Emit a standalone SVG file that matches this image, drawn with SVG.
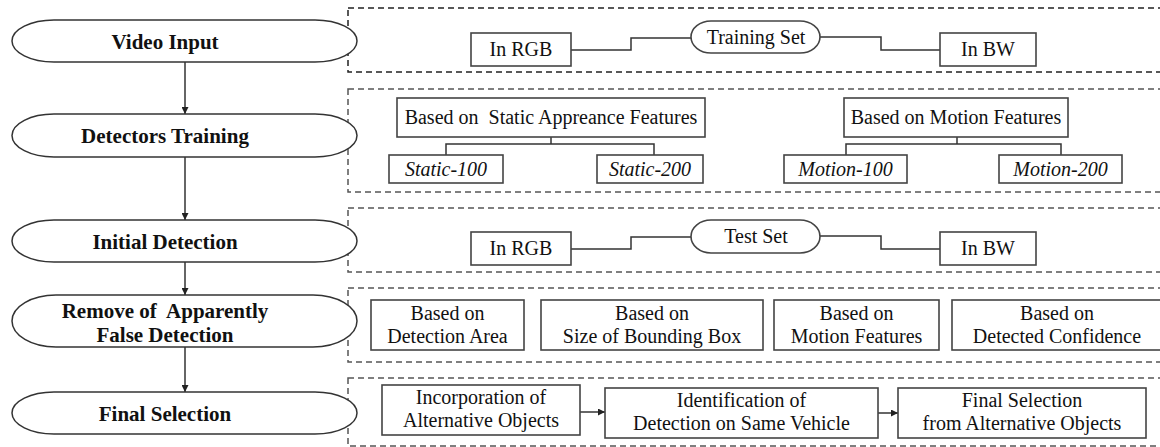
<svg xmlns="http://www.w3.org/2000/svg" width="1160" height="447" viewBox="0 0 1160 447" font-family="Liberation Serif, serif">
<style>
.bgr{fill:#fff}
.oval{fill:#fff;stroke:#333;stroke-width:1.5}
.node{fill:#fff;stroke:#444;stroke-width:1.6}
.panel{fill:none;stroke:#555;stroke-width:1.5;stroke-dasharray:6 4}
.panel-top{stroke:#222}
.wire{fill:none;stroke:#333;stroke-width:1.5}
.stage-label{font-size:21px;font-weight:bold;fill:#111;text-anchor:middle;white-space:pre}
.node-label{font-size:20px;fill:#111;text-anchor:middle;white-space:pre}
.slanted{font-style:italic}
</style>
<defs>
<marker id="ah" viewBox="0 0 10 10" refX="10" refY="5" markerWidth="7" markerHeight="7" markerUnits="userSpaceOnUse" orient="auto">
<path d="M0,0 L10,5 L0,10 z" fill="#222"/>
</marker>
</defs>
<rect class="bgr" x="0" y="0" width="1160" height="447"/>

<g id="panels">
<rect class="panel panel-top" x="348" y="8" width="830" height="64"/>
<rect class="panel" x="348" y="89" width="830" height="103"/>
<rect class="panel" x="348" y="208" width="830" height="64"/>
<rect class="panel" x="348" y="288" width="830" height="74"/>
<rect class="panel" x="348" y="378" width="830" height="68"/>
</g>

<g id="connectors">
<line class="wire" x1="185" y1="62" x2="185" y2="114" marker-end="url(#ah)"/>
<line class="wire" x1="185" y1="157" x2="185" y2="220" marker-end="url(#ah)"/>
<line class="wire" x1="185" y1="262" x2="185" y2="295" marker-end="url(#ah)"/>
<line class="wire" x1="185" y1="347" x2="185" y2="392" marker-end="url(#ah)"/>
<polyline class="wire" points="571,50 631,50 631,38 691,38"/>
<polyline class="wire" points="820,37 881,37 881,50 940,50"/>
<polyline class="wire" points="571,249 631,249 631,237 691,237"/>
<polyline class="wire" points="820,236 881,236 881,249 940,249"/>
<polyline class="wire" points="551,137 551,144"/>
<polyline class="wire" points="446,155 446,144 654,144 654,155"/>
<polyline class="wire" points="957,137 957,144"/>
<polyline class="wire" points="846,155 846,144 1061,144 1061,155"/>
<line class="wire" x1="580" y1="412" x2="605" y2="412" marker-end="url(#ah)"/>
<line class="wire" x1="878" y1="413" x2="898" y2="413" marker-end="url(#ah)"/>
</g>

<g id="video-input">
<rect class="oval" x="12" y="20" width="345" height="42" rx="42" ry="21"/>
<text class="stage-label" style="font-family:'Liberation Serif',serif" x="165" y="49">Video Input</text>
</g>
<g id="detectors-training">
<rect class="oval" x="12" y="114" width="345" height="43" rx="42" ry="21.5"/>
<text class="stage-label" style="font-family:'Liberation Serif',serif" x="165" y="143">Detectors Training</text>
</g>
<g id="initial-detection">
<rect class="oval" x="12" y="220" width="345" height="42" rx="42" ry="21"/>
<text class="stage-label" style="font-family:'Liberation Serif',serif" x="165" y="249">Initial Detection</text>
</g>
<g id="remove-false">
<rect class="oval" x="12" y="295" width="345" height="52" rx="44" ry="26"/>
<text class="stage-label" style="font-family:'Liberation Serif',serif" x="165" y="318">Remove of  Apparently</text>
<text class="stage-label" style="font-family:'Liberation Serif',serif" x="165" y="342">False Detection</text>
</g>
<g id="final-selection">
<rect class="oval" x="12" y="392" width="345" height="42" rx="42" ry="21"/>
<text class="stage-label" style="font-family:'Liberation Serif',serif" x="165" y="421">Final Selection</text>
</g>

<g id="train-rgb">
<rect class="node" x="471" y="33" width="100" height="33"/>
<text class="node-label" style="font-family:'Liberation Serif',serif" x="521" y="56">In RGB</text>
</g>
<g id="training-set">
<rect class="node" x="691" y="21" width="129" height="32" rx="20" ry="16"/>
<text class="node-label" style="font-family:'Liberation Serif',serif" x="756" y="44">Training Set</text>
</g>
<g id="train-bw">
<rect class="node" x="940" y="33" width="96" height="33"/>
<text class="node-label" style="font-family:'Liberation Serif',serif" x="988" y="56">In BW</text>
</g>

<g id="static-features">
<rect class="node" x="397" y="98" width="308" height="39"/>
<text class="node-label" style="font-family:'Liberation Serif',serif" x="551" y="124">Based on  Static Appreance Features</text>
</g>
<g id="static-100">
<rect class="node" x="389" y="155" width="114" height="28"/>
<text class="node-label slanted" style="font-family:'Liberation Serif',serif" x="446" y="176">Static-100</text>
</g>
<g id="static-200">
<rect class="node" x="597" y="155" width="106" height="28"/>
<text class="node-label slanted" style="font-family:'Liberation Serif',serif" x="650" y="176">Static-200</text>
</g>
<g id="motion-features">
<rect class="node" x="844" y="98" width="224" height="39"/>
<text class="node-label" style="font-family:'Liberation Serif',serif" x="956" y="124">Based on Motion Features</text>
</g>
<g id="motion-100">
<rect class="node" x="784" y="155" width="123" height="28"/>
<text class="node-label slanted" style="font-family:'Liberation Serif',serif" x="845.5" y="176">Motion-100</text>
</g>
<g id="motion-200">
<rect class="node" x="999" y="155" width="123" height="28"/>
<text class="node-label slanted" style="font-family:'Liberation Serif',serif" x="1060.5" y="176">Motion-200</text>
</g>

<g id="test-rgb">
<rect class="node" x="471" y="232" width="100" height="33"/>
<text class="node-label" style="font-family:'Liberation Serif',serif" x="521" y="255">In RGB</text>
</g>
<g id="test-set">
<rect class="node" x="691" y="220" width="129" height="33" rx="20" ry="16.5"/>
<text class="node-label" style="font-family:'Liberation Serif',serif" x="756" y="243">Test Set</text>
</g>
<g id="test-bw">
<rect class="node" x="940" y="232" width="96" height="33"/>
<text class="node-label" style="font-family:'Liberation Serif',serif" x="988" y="255">In BW</text>
</g>

<g id="detection-area">
<rect class="node" x="371" y="300" width="153" height="50"/>
<text class="node-label" style="font-family:'Liberation Serif',serif" x="447.5" y="320">Based on</text>
<text class="node-label" style="font-family:'Liberation Serif',serif" x="447.5" y="343">Detection Area</text>
</g>
<g id="bounding-box">
<rect class="node" x="541" y="300" width="222" height="50"/>
<text class="node-label" style="font-family:'Liberation Serif',serif" x="652" y="320">Based on</text>
<text class="node-label" style="font-family:'Liberation Serif',serif" x="652" y="343">Size of Bounding Box</text>
</g>
<g id="motion-based">
<rect class="node" x="774" y="300" width="165" height="50"/>
<text class="node-label" style="font-family:'Liberation Serif',serif" x="856.5" y="320">Based on</text>
<text class="node-label" style="font-family:'Liberation Serif',serif" x="856.5" y="343">Motion Features</text>
</g>
<g id="confidence">
<rect class="node" x="952" y="300" width="230" height="50"/>
<text class="node-label" style="font-family:'Liberation Serif',serif" x="1057" y="320">Based on</text>
<text class="node-label" style="font-family:'Liberation Serif',serif" x="1057" y="343">Detected Confidence</text>
</g>

<g id="incorporation">
<rect class="node" x="382" y="385" width="198" height="50"/>
<text class="node-label" style="font-family:'Liberation Serif',serif" x="481" y="404">Incorporation of</text>
<text class="node-label" style="font-family:'Liberation Serif',serif" x="481" y="427">Alternative Objects</text>
</g>
<g id="identification">
<rect class="node" x="605" y="388" width="273" height="50"/>
<text class="node-label" style="font-family:'Liberation Serif',serif" x="741.5" y="407">Identification of</text>
<text class="node-label" style="font-family:'Liberation Serif',serif" x="741.5" y="430">Detection on Same Vehicle</text>
</g>
<g id="final-from-alt">
<rect class="node" x="898" y="388" width="248" height="50"/>
<text class="node-label" style="font-family:'Liberation Serif',serif" x="1022" y="407">Final Selection</text>
<text class="node-label" style="font-family:'Liberation Serif',serif" x="1022" y="430">from Alternative Objects</text>
</g>
</svg>
